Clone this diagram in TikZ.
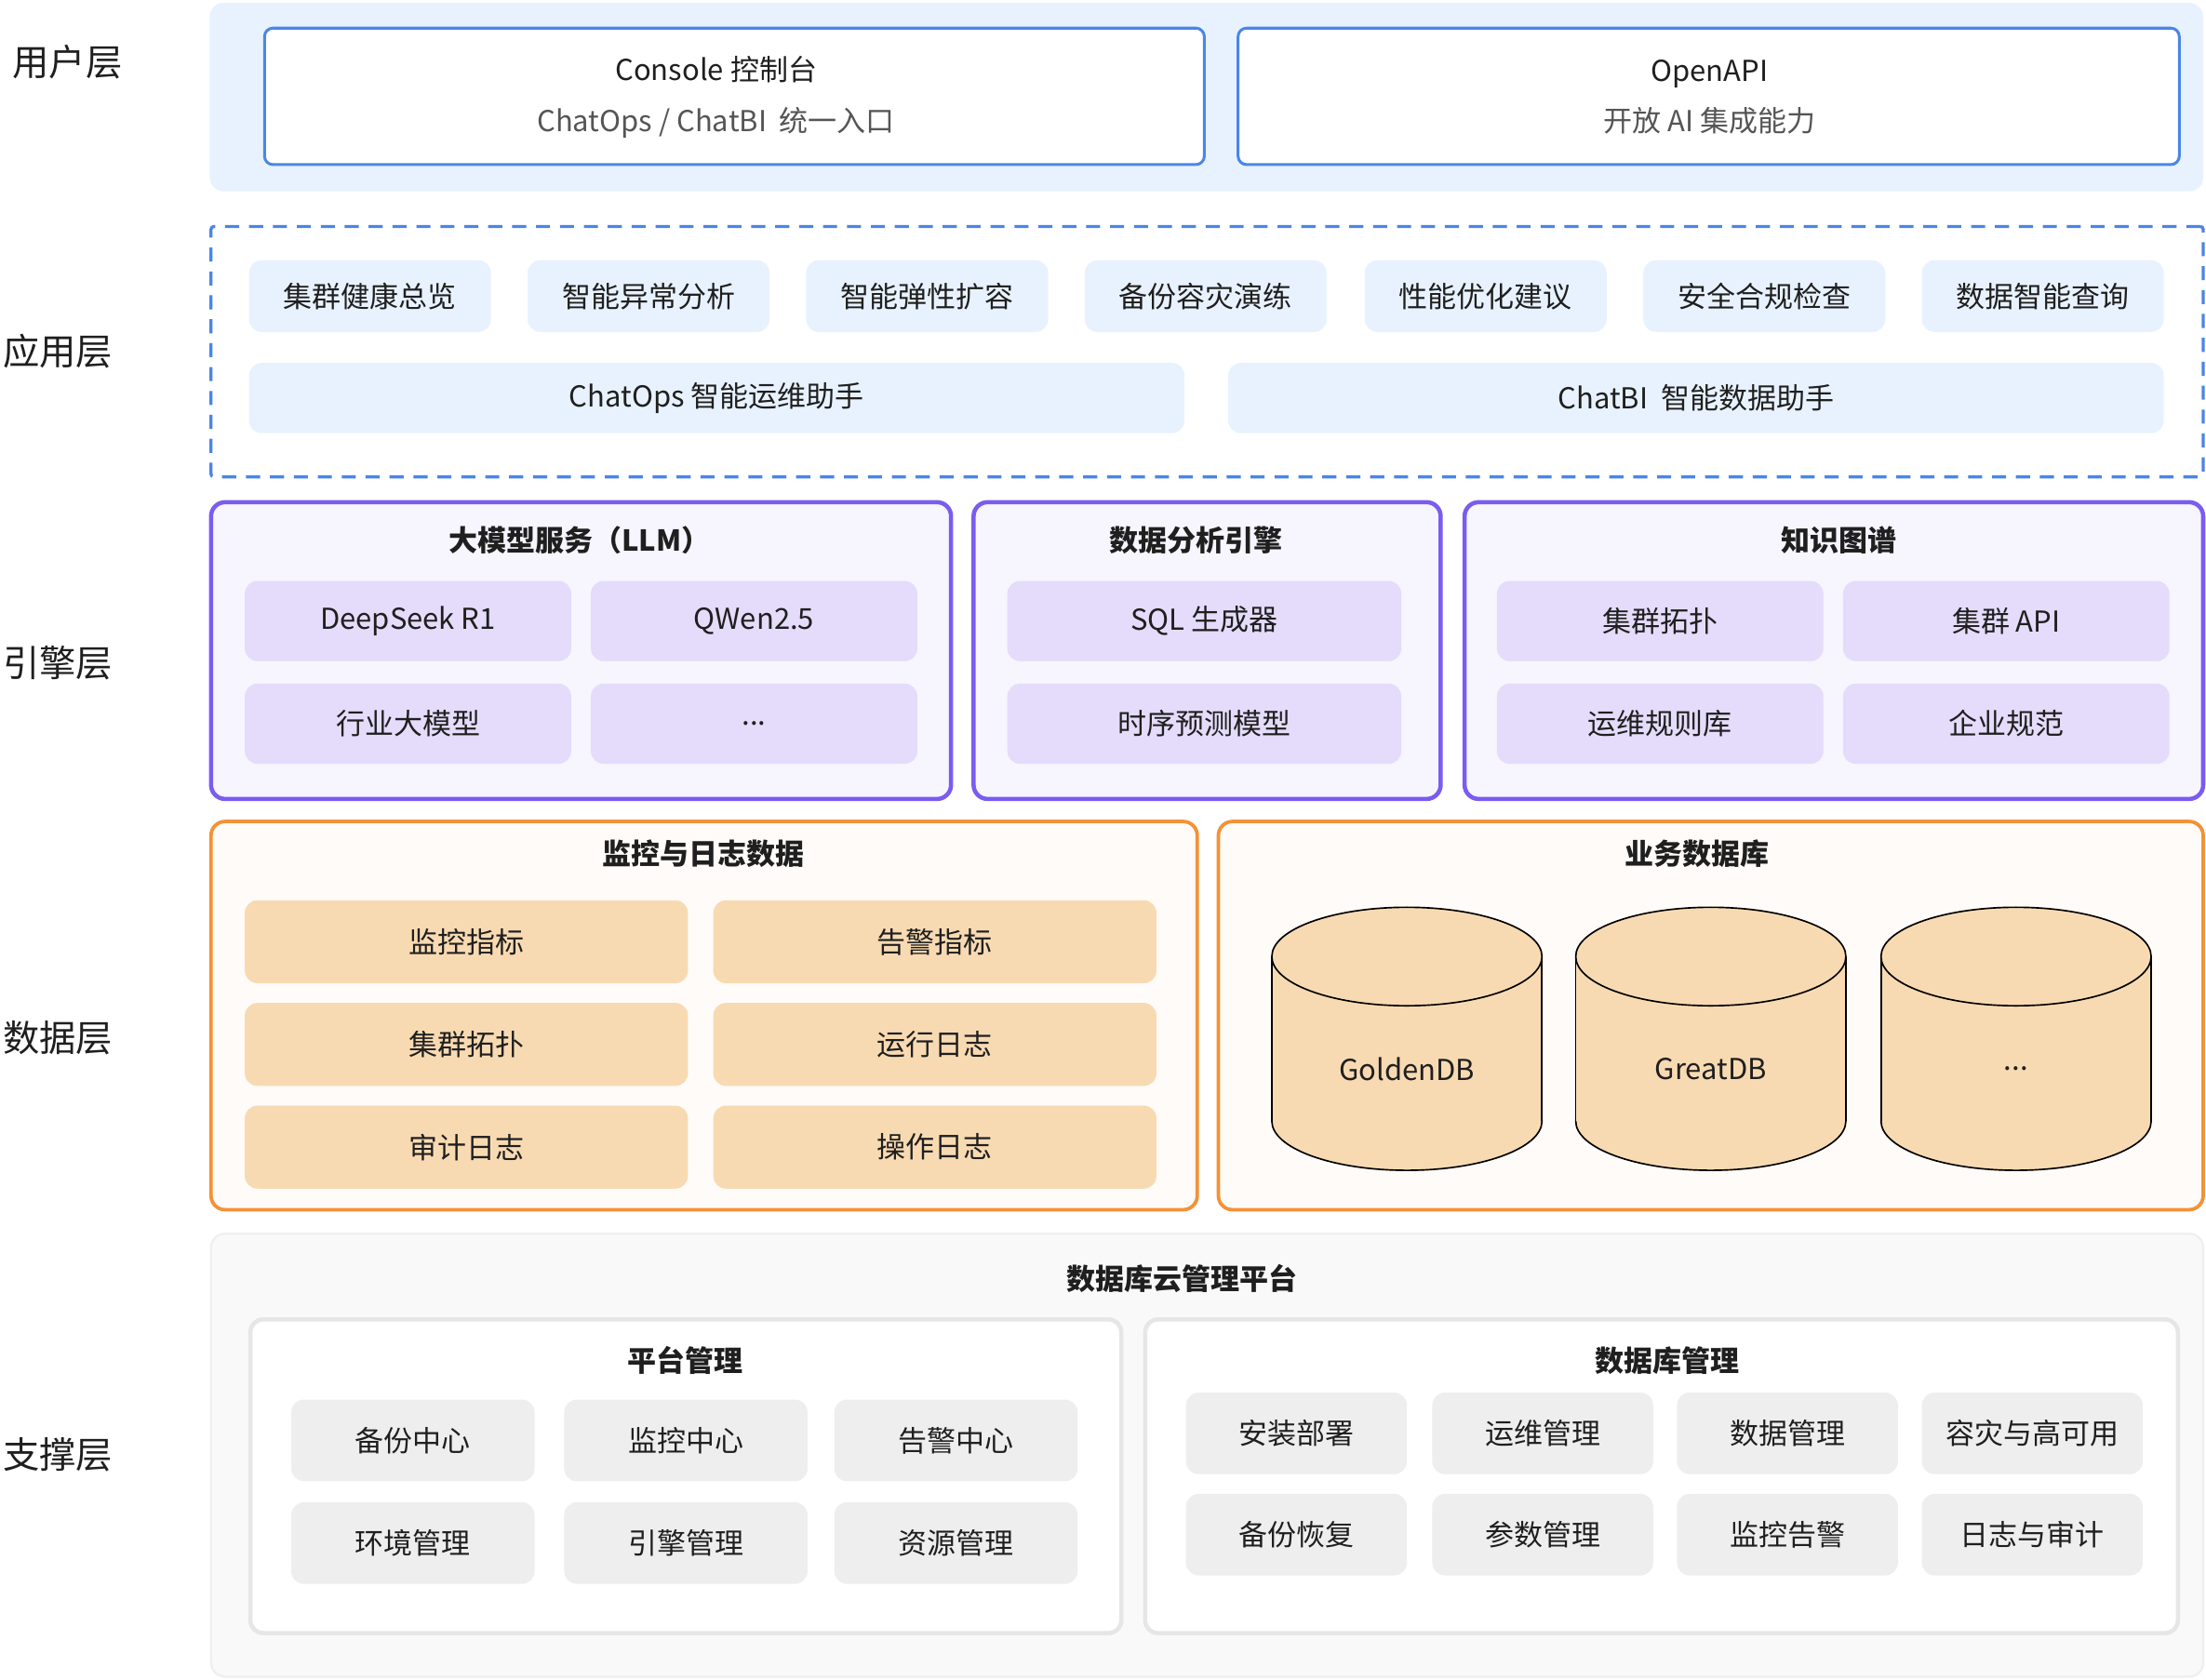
\documentclass[tikz,border=0pt]{standalone}
\usepackage{fontspec}
\setmainfont{Noto Sans CJK SC}
\usetikzlibrary{calc}

\definecolor{ink}{HTML}{1F1F1F}
\definecolor{subgray}{HTML}{555555}
\definecolor{userblue}{HTML}{E8F2FE}
\definecolor{lineblue}{HTML}{4A86E8}
\definecolor{enginepurple}{HTML}{7B5CF0}
\definecolor{enginebg}{HTML}{F7F5FE}
\definecolor{enginecellfill}{HTML}{E4DCFA}
\definecolor{dataorange}{HTML}{F39237}
\definecolor{databg}{HTML}{FFFBF8}
\definecolor{datapeach}{HTML}{F8DAB2}
\definecolor{basebg}{HTML}{F9F9F9}
\definecolor{baseedge}{HTML}{EFEFEF}
\definecolor{groupedge}{HTML}{E6E6E6}
\definecolor{basecellfill}{HTML}{EEEEEE}

\newcommand{\itemfont}{\fontsize{20.5}{24}\selectfont}

\begin{document}
\begin{tikzpicture}[x=1pt,y=-1pt,
	every node/.append style={text=ink, inner sep=0pt},
	layerlabel/.style={font=\fontsize{26}{30}\selectfont},
	boxtitle/.style={font=\itemfont\bfseries},
	userbg/.style={fill=userblue, rounded corners=10pt},
	entrybox/.style={draw=lineblue, line width=2pt, fill=white, rounded corners=6pt},
	entrytext/.style={align=center, font=\fontsize{20.5}{36}\selectfont},
	appframe/.style={draw=lineblue, line width=2.2pt, dash pattern=on 10pt off 7pt, rounded corners=2pt},
	appcell/.style={fill=userblue, rounded corners=9pt, font=\itemfont},
	enginebox/.style={draw=enginepurple, line width=3pt, fill=enginebg, rounded corners=10pt},
	enginecell/.style={fill=enginecellfill, rounded corners=9pt, font=\itemfont},
	databox/.style={draw=dataorange, line width=2.5pt, fill=databg, rounded corners=10pt},
	datacell/.style={fill=datapeach, rounded corners=9pt, font=\itemfont},
	basebox/.style={draw=baseedge, line width=1.5pt, fill=basebg, rounded corners=10pt},
	groupbox/.style={draw=groupedge, line width=3pt, fill=white, rounded corners=9pt},
	basecell/.style={fill=basecellfill, rounded corners=9pt, font=\itemfont}
]

\useasboundingbox (0,0) rectangle (1568,1194);

% A box given by its corners: name, style, x1, y1, x2, y2, text
\newcommand{\cellbox}[7]{%
	\node[#2, minimum width={#5-#3}, minimum height={#6-#4}] (#1) at ({(#3+#5)/2},{(#4+#6)/2}) {#7};
}

% A database cylinder: centre x, node name, label
\newcommand{\dbcyl}[3]{%
	\filldraw[fill=datapeach, line width=1.1pt] (#1,797) ellipse [x radius=96, y radius=35];
	\fill[datapeach] ({#1-96},680) rectangle ({#1+96},797);
	\draw[line width=1.1pt] ({#1-96},680) -- ({#1-96},797) ({#1+96},680) -- ({#1+96},797);
	\filldraw[fill=datapeach, line width=1.1pt] (#1,680) ellipse [x radius=96, y radius=35];
	\node[font=\itemfont] (#2) at (#1,760) {#3};
}

% Layer labels on the left
\node[layerlabel] (lab-user) at (48,44) {用户层};
\node[layerlabel] (lab-app) at (41,250) {应用层};
\node[layerlabel] (lab-engine) at (41,471) {引擎层};
\node[layerlabel] (lab-data) at (41,738) {数据层};
\node[layerlabel] (lab-base) at (41,1034) {支撑层};

% User layer
\cellbox{user-bg}{userbg}{149}{2}{1566}{136}{}
\cellbox{console}{entrybox}{188}{20}{856}{117}{}
\cellbox{openapi}{entrybox}{880}{20}{1549}{117}{}
\node[entrytext] (console-text) at (509,69) {Console 控制台\\{\color{subgray}ChatOps / ChatBI\ \ 统一入口}};
\node[entrytext] (openapi-text) at (1215,69) {OpenAPI\\{\color{subgray}开放 AI 集成能力}};

% Application layer
\cellbox{app-frame}{appframe}{150}{161}{1566}{339}{}
\foreach \name/\x/\label in {health/177/集群健康总览, anomaly/375/智能异常分析, scaling/573/智能弹性扩容, drill/771/备份容灾演练, tuning/970/性能优化建议, compliance/1168/安全合规检查, query/1366/数据智能查询}
	{\cellbox{app-\name}{appcell}{\x}{185}{\x+172}{236}{\label}}
\cellbox{chatops}{appcell}{177}{258}{842}{308}{ChatOps 智能运维助手}
\cellbox{chatbi}{appcell}{873}{258}{1538}{308}{ChatBI\ \ 智能数据助手}

% Engine layer
\cellbox{llm}{enginebox}{150}{357}{676}{568}{}
\cellbox{analytics}{enginebox}{692}{357}{1024}{568}{}
\cellbox{kg}{enginebox}{1041}{357}{1566}{568}{}
\node[boxtitle] (llm-title) at (412,384) {大模型服务（LLM）};
\node[boxtitle] (analytics-title) at (850,384) {数据分析引擎};
\node[boxtitle] (kg-title) at (1307,384) {知识图谱};
\foreach \name/\x/\y/\label in {deepseek/174/413/DeepSeek R1, qwen/420/413/QWen2.5, industry/174/486/行业大模型}
	{\cellbox{llm-\name}{enginecell}{\x}{\y}{\x+232}{\y+57}{\label}}
\cellbox{llm-more}{enginecell}{420}{486}{652}{543}{...}
\cellbox{sqlgen}{enginecell}{716}{413}{996}{470}{SQL 生成器}
\cellbox{forecast}{enginecell}{716}{486}{996}{543}{时序预测模型}
\foreach \name/\x/\y/\label in {topo/1064/413/集群拓扑, api/1310/413/集群 API, rules/1064/486/运维规则库, norms/1310/486/企业规范}
	{\cellbox{kg-\name}{enginecell}{\x}{\y}{\x+232}{\y+57}{\label}}

% Data layer
\cellbox{monlog}{databox}{150}{584}{851}{860}{}
\cellbox{bizdb}{databox}{866}{584}{1566}{860}{}
\node[boxtitle] (monlog-title) at (500,607) {监控与日志数据};
\node[boxtitle] (bizdb-title) at (1206,607) {业务数据库};
\foreach \name/\x/\y/\label in {metric/174/640/监控指标, alert/507/640/告警指标, topo/174/713/集群拓扑, runlog/507/713/运行日志, auditlog/174/786/审计日志, oplog/507/786/操作日志}
	{\cellbox{d-\name}{datacell}{\x}{\y}{\x+315}{\y+59}{\label}}
\dbcyl{1000}{goldendb}{GoldenDB}
\dbcyl{1216}{greatdb}{GreatDB}
\dbcyl{1433}{moredb}{...}

% Support layer
\cellbox{platform}{basebox}{150}{877}{1566}{1192}{}
\node[boxtitle] (platform-title) at (840,909) {数据库云管理平台};
\cellbox{pm}{groupbox}{178}{938}{797}{1161}{}
\cellbox{dbm}{groupbox}{814}{938}{1548}{1161}{}
\node[boxtitle] (pm-title) at (487,967) {平台管理};
\node[boxtitle] (dbm-title) at (1185,967) {数据库管理};
\foreach \name/\x/\y/\label in {backup/207/995/备份中心, monitor/401/995/监控中心, alarm/593/995/告警中心, env/207/1068/环境管理, engine/401/1068/引擎管理, resource/593/1068/资源管理}
	{\cellbox{pm-\name}{basecell}{\x}{\y}{\x+173}{\y+58}{\label}}
\foreach \name/\x/\y/\label in {install/843/990/安装部署, ops/1018/990/运维管理, datam/1192/990/数据管理, ha/1366/990/容灾与高可用, restore/843/1062/备份恢复, param/1018/1062/参数管理, monalarm/1192/1062/监控告警, logaudit/1366/1062/日志与审计}
	{\cellbox{dbm-\name}{basecell}{\x}{\y}{\x+157}{\y+58}{\label}}

\end{tikzpicture}
\end{document}
